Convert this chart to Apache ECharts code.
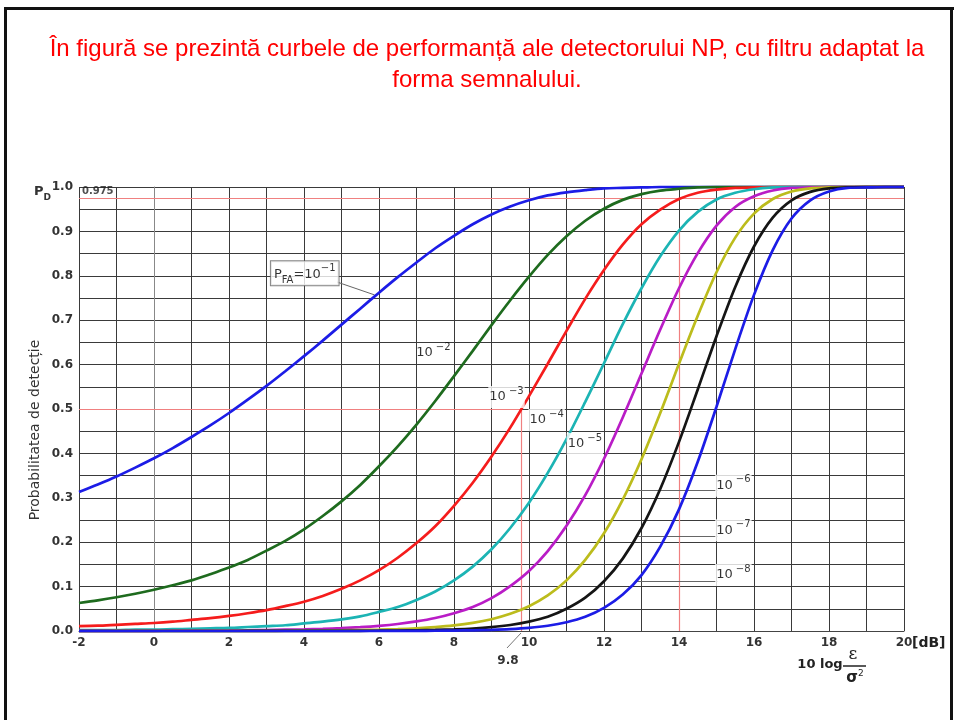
<!DOCTYPE html>
<html><head><meta charset="utf-8">
<script src="https://cdn.jsdelivr.net/npm/echarts@6/dist/echarts.min.js"></script>
<style>html,body{margin:0;padding:0;background:#fff}#c{width:954px;height:720px}</style>
</head><body><div id="c"></div>
<script>
// signal-to-noise ratio 10 log(E/sigma^2) in dB
const snrDb = [-2,-1.5,-1,-0.5,0,0.5,1,1.5,2,2.5,3,3.5,4,4.5,5,5.5,6,6.5,7,7.5,8,8.5,9,9.5,10,10.5,11,11.5,12,12.5,13,13.5,14,14.5,15,15.5,16,16.5,17,17.5,18,18.5,19,19.5,20];
// detection probability for each false-alarm probability
const pdPfa1 = [0.313,0.330,0.348,0.368,0.389,0.412,0.437,0.463,0.491,0.521,0.552,0.585,0.619,0.654,0.690,0.726,0.762,0.797,0.830,0.862,0.890,0.916,0.938,0.956,0.970,0.981,0.988,0.993,0.997,0.998,0.999,1,1,1,1,1,1,1,1,1,1,1,1,1,1];
const pdPfa2 = [0.063,0.069,0.076,0.084,0.093,0.103,0.114,0.128,0.143,0.160,0.181,0.203,0.229,0.259,0.292,0.329,0.371,0.416,0.465,0.518,0.574,0.631,0.689,0.745,0.798,0.847,0.889,0.924,0.951,0.971,0.984,0.992,0.996,0.999,1,1,1,1,1,1,1,1,1,1,1];
const pdPfa3 = [0.011,0.012,0.014,0.016,0.018,0.021,0.025,0.029,0.034,0.040,0.047,0.056,0.066,0.079,0.095,0.114,0.137,0.165,0.198,0.236,0.282,0.334,0.393,0.458,0.529,0.602,0.676,0.748,0.813,0.870,0.916,0.949,0.973,0.987,0.994,0.998,0.999,1,1,1,1,1,1,1,1];
const pdPfa4 = [0.002,0.002,0.002,0.003,0.003,0.004,0.005,0.006,0.007,0.009,0.011,0.013,0.017,0.021,0.026,0.033,0.043,0.054,0.070,0.089,0.114,0.145,0.184,0.232,0.289,0.356,0.432,0.516,0.603,0.691,0.772,0.844,0.902,0.944,0.972,0.987,0.995,0.999,1,1,1,1,1,1,1];
const pdPfa5 = [0.0003,0.0003,0.0004,0.0004,0.0005,0.0007,0.0008,0.0010,0.0013,0.0017,0.0022,0.0029,0.0037,0.0049,0.0065,0.0087,0.0117,0.0158,0.0215,0.0292,0.040,0.054,0.074,0.101,0.135,0.180,0.237,0.306,0.388,0.481,0.580,0.679,0.772,0.851,0.913,0.955,0.979,0.992,0.998,0.999,1,1,1,1,1];
const pdPfa6 = [0,0,0.0001,0.0001,0.0001,0.0001,0.0001,0.0002,0.0002,0.0003,0.0004,0.0006,0.0008,0.0011,0.0015,0.0021,0.0030,0.0042,0.0060,0.0087,0.0126,0.0183,0.0266,0.0387,0.0559,0.080,0.114,0.160,0.220,0.296,0.387,0.491,0.602,0.710,0.808,0.886,0.940,0.973,0.990,0.997,0.999,1,1,1,1];
const pdPfa7 = [0,0,0,0,0,0,0,0,0,0.0001,0.0001,0.0001,0.0002,0.0002,0.0003,0.0005,0.0007,0.0010,0.0016,0.0024,0.0037,0.0056,0.0087,0.0135,0.021,0.032,0.050,0.075,0.112,0.163,0.232,0.320,0.426,0.544,0.664,0.775,0.866,0.931,0.970,0.989,0.997,0.999,1,1,1];
const pdPfa8 = [0,0,0,0,0,0,0,0,0,0,0,0,0,0,0,0,0.0001,0.0002,0.0004,0.0006,0.0010,0.0016,0.0027,0.0044,0.0072,0.0119,0.0197,0.032,0.052,0.082,0.126,0.190,0.274,0.381,0.505,0.635,0.757,0.858,0.929,0.970,0.990,0.998,0.999,1,1];
const pdSeries = [pdPfa1,pdPfa2,pdPfa3,pdPfa4,pdPfa5,pdPfa6,pdPfa7,pdPfa8];
const pfaExponents = ['1','2','3','4','5','6','7','8'];
const xTickLabels = ['-2','0','2','4','6','8','10','12','14','16','18','20'];
const yTickLabels = ['0.0','0.1','0.2','0.3','0.4','0.5','0.6','0.7','0.8','0.9','1.0'];
const refPd = [0.975, 0.5];
const refSnr = [9.8, 14];

const colors = ['#1c1ce6','#1e6b1e','#f51c1c','#1cb4b4','#b91cc6','#bcbc1c','#151515','#1c1ce6'];
const FONT = 'DejaVu Sans';

const chart = echarts.init(document.getElementById('c'), null, {renderer:'canvas'});

const curveSeries = pdSeries.map((arr, i) => ({
  type: 'line', name: '10^-' + pfaExponents[i],
  data: snrDb.map((x, j) => [x, arr[j]]),
  showSymbol: false, smooth: 0.3, clip: false,
  lineStyle: {color: colors[i], width: 2.7}, z: 5 + i, silent: true
}));

const supRich = {
  n: {fontFamily: FONT, fontSize: 13, color: '#000', lineHeight: 22, verticalAlign: 'middle'},
  s: {fontFamily: FONT, fontSize: 10, color: '#000', lineHeight: 11, verticalAlign: 'top'},
  b: {fontFamily: FONT, fontSize: 10, color: '#000', lineHeight: 12, verticalAlign: 'bottom'}
};
function lbl(exp) { return '{n|10}{s| −' + exp + '}'; }

const annotations = [
  {value: [4.02, 0.806], label: {formatter: '{n|P}{b|FA}{n|=10}{s|−1}', backgroundColor: '#fff', borderColor: '#666', borderWidth: 1, padding: [2,3,0,3]}},
  {value: [7.45, 0.626], label: {formatter: lbl(pfaExponents[1])}},
  {value: [9.40, 0.527], label: {formatter: lbl(pfaExponents[2]), backgroundColor: '#fff', padding: [0,1]}},
  {value: [10.47, 0.475], label: {formatter: lbl(pfaExponents[3]), backgroundColor: '#fff', padding: [0,1]}},
  {value: [11.49, 0.421], label: {formatter: lbl(pfaExponents[4]), backgroundColor: '#fff', padding: [0,1]}},
  {value: [15.45, 0.327], label: {formatter: lbl(pfaExponents[5]), backgroundColor: '#fff', padding: [0,1]}},
  {value: [15.45, 0.227], label: {formatter: lbl(pfaExponents[6]), backgroundColor: '#fff', padding: [0,1]}},
  {value: [15.45, 0.126], label: {formatter: lbl(pfaExponents[7]), backgroundColor: '#fff', padding: [0,1]}},
  {value: [-1.50, 0.989], label: {formatter: '0.975', fontFamily: FONT, fontSize: 10, fontWeight: 'bold', color: '#222'}}
];

function seg(a, b) { return [{coord: a}, {coord: b}]; }

const annoSeries = {
  type: 'scatter', data: annotations, symbolSize: 0, z: 20, clip: false, silent: true,
  label: {show: true, position: 'inside', rich: supRich},
  markLine: {
    silent: true, symbol: ['none','none'], animation: false,
    label: {show: false},
    lineStyle: {type: 'solid', color: '#666', width: 1},
    data: [
      seg([4.88, 0.786], [5.88, 0.757]),
      seg([12.64, 0.316], [15.03, 0.316]),
      seg([12.87, 0.214], [15.03, 0.214]),
      seg([12.82, 0.111], [15.03, 0.111])
    ]
  }
};

const refSeries = {
  type: 'line', data: [], z: 3, silent: true,
  markLine: {
    silent: true, symbol: ['none','none'], animation: false,
    label: {show: false},
    lineStyle: {type: 'solid', color: '#f08080', width: 1.2},
    data: [
      seg([-2, refPd[0]], [20, refPd[0]]),
      seg([-2, refPd[1]], [refSnr[0], refPd[1]]),
      seg([refSnr[0], 0], [refSnr[0], refPd[1]]),
      seg([refSnr[1], 0], [refSnr[1], 0.902])
    ]
  }
};

chart.setOption({
  animation: false,
  backgroundColor: '#fff',
  grid: {left: 79, right: 50, top: 187, bottom: 89, containLabel: false},
  xAxis: {
    type: 'value', min: -2, max: 20, interval: 1,
    axisLine: {show: true, lineStyle: {color: '#444', width: 1}},
    axisTick: {show: false},
    splitLine: {show: true, lineStyle: {color: '#3a3a3a', width: 1}},
    axisLabel: {
      margin: 6, color: '#333', fontFamily: FONT, fontSize: 12, fontWeight: 'bold',
      formatter: v => { const s = String(Math.round(v)); return xTickLabels.indexOf(s) >= 0 ? s : ''; }
    }
  },
  yAxis: {
    type: 'value', min: 0, max: 1, interval: 0.05,
    axisLine: {show: true, lineStyle: {color: '#888', width: 1}},
    axisTick: {show: false},
    splitLine: {show: true, lineStyle: {color: '#3a3a3a', width: 1}},
    axisLabel: {
      margin: 6, color: '#333', fontFamily: FONT, fontSize: 12, fontWeight: 'bold',
      formatter: v => { const s = v.toFixed(2); return s.endsWith('0') ? yTickLabels[Math.round(v * 10)] : ''; }
    }
  },
  series: [refSeries].concat(curveSeries, [annoSeries]),
  graphic: [
    {type: 'rect', shape: {x: 4, y: 7, width: 3, height: 720}, style: {fill: '#111'}, silent: true},
    {type: 'rect', shape: {x: 4, y: 7, width: 950, height: 3}, style: {fill: '#111'}, silent: true},
    {type: 'rect', shape: {x: 950, y: 7, width: 3, height: 720}, style: {fill: '#111'}, silent: true},
    {type: 'text', x: 487, y: 49, style: {text: 'În figură se prezintă curbele de performanță ale detectorului NP, cu filtru adaptat la', fontFamily: 'Liberation Sans', fontSize: 24, fill: '#ff0000', align: 'center', verticalAlign: 'middle'}},
    {type: 'text', x: 487, y: 80, style: {text: 'forma semnalului.', fontFamily: 'Liberation Sans', fontSize: 24, fill: '#ff0000', align: 'center', verticalAlign: 'middle'}},
    {type: 'text', x: 34, y: 192, style: {text: '{p|P}{d|D}', align: 'left', verticalAlign: 'middle', rich: {
      p: {fontFamily: FONT, fontSize: 13, fontWeight: 'bold', fill: '#333', lineHeight: 20, verticalAlign: 'middle'},
      d: {fontFamily: FONT, fontSize: 9, fontWeight: 'bold', fill: '#333', lineHeight: 10, verticalAlign: 'bottom'}}}},
    {type: 'text', x: 35, y: 430, rotation: Math.PI / 2, style: {text: 'Probabilitatea de detecție', fontFamily: FONT, fontSize: 14, fill: '#333', align: 'center', verticalAlign: 'middle'}},
    {type: 'text', x: 912, y: 643, style: {text: '[dB]', fontFamily: FONT, fontSize: 14, fontWeight: 'bold', fill: '#222', align: 'left', verticalAlign: 'middle'}},
    {type: 'text', x: 820, y: 665, style: {text: '10 log', fontFamily: FONT, fontSize: 13, fontWeight: 'bold', fill: '#222', align: 'center', verticalAlign: 'middle'}},
    {type: 'text', x: 853, y: 655, style: {text: 'ε', fontFamily: 'DejaVu Serif', fontSize: 17, fill: '#222', align: 'center', verticalAlign: 'middle'}},
    {type: 'line', shape: {x1: 843, y1: 666, x2: 866, y2: 666}, style: {stroke: '#222', lineWidth: 1.5}},
    {type: 'text', x: 855, y: 678, style: {text: '{a|σ}{b|2}', align: 'center', verticalAlign: 'middle', rich: {
      a: {fontFamily: FONT, fontSize: 15, fontWeight: 'bold', fill: '#222', lineHeight: 18, verticalAlign: 'middle'},
      b: {fontFamily: FONT, fontSize: 9, fill: '#222', lineHeight: 10, verticalAlign: 'top'}}}},
    {type: 'text', x: 508, y: 661, style: {text: '9.8', fontFamily: FONT, fontSize: 12, fontWeight: 'bold', fill: '#333', align: 'center', verticalAlign: 'middle'}},
    {type: 'line', shape: {x1: 507, y1: 648, x2: 521, y2: 633}, style: {stroke: '#777', lineWidth: 1}}
  ]
});
</script></body></html>
